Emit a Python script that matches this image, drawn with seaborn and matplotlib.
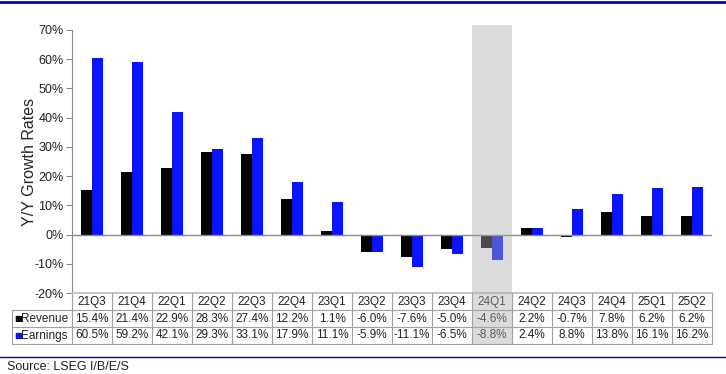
import pandas as pd
import numpy as np
import seaborn as sns
import matplotlib.pyplot as plt
from matplotlib.patches import Rectangle

# данные
quarters = ['21Q3', '21Q4', '22Q1', '22Q2', '22Q3', '22Q4', '23Q1', '23Q2',
            '23Q3', '23Q4', '24Q1', '24Q2', '24Q3', '24Q4', '25Q1', '25Q2']
revenue = [15.4, 21.4, 22.9, 28.3, 27.4, 12.2, 1.1, -6.0,
           -7.6, -5.0, -4.6, 2.2, -0.7, 7.8, 6.2, 6.2]
earnings = [60.5, 59.2, 42.1, 29.3, 33.1, 17.9, 11.1, -5.9,
            -11.1, -6.5, -8.8, 2.4, 8.8, 13.8, 16.1, 16.2]
series_names = ['Revenue', 'Earnings']
series_colors = ['#000000', '#0a14ff']
highlight = '24Q1'

df = pd.DataFrame({
    'quarter': quarters * 2,
    'series': ['Revenue'] * len(quarters) + ['Earnings'] * len(quarters),
    'value': revenue + earnings,
})

sns.set_style('white')
plt.rcParams['font.family'] = ['Liberation Sans', 'DejaVu Sans']

W, H = 726, 374
fig = plt.figure(figsize=(W / 100, H / 100), dpi=100)

# основная область графика (в пикселях)
x0, x1, y_top, y_bot = 72, 712, 30, 293
ax = fig.add_axes([x0 / W, (H - y_bot) / H, (x1 - x0) / W, (y_bot - y_top) / H])
sns.barplot(data=df, x='quarter', y='value', hue='series', hue_order=series_names,
            palette=series_colors, saturation=1, width=0.55, ax=ax, legend=False)
for p in ax.patches:
    p.set_edgecolor('none')
ax.set_ylim(-20, 70)
ax.set_xlim(-0.5, len(quarters) - 0.5)
ax.set_yticks(np.arange(-20, 71, 10))
ax.set_yticklabels([f'{v}%' for v in range(-20, 71, 10)], fontsize=9, color='#222222')
ax.set_xticks([])
ax.set_xlabel('')
ax.set_ylabel('Y/Y Growth Rates', fontsize=11.5, labelpad=-2)
ax.tick_params(axis='y', left=True, length=4, width=0.8, color='#888888', pad=2)
for s in ['top', 'right', 'bottom']:
    ax.spines[s].set_visible(False)
ax.spines['left'].set_color('#888888')
ax.axhline(0, color='#888888', lw=1)

# таблица и оформление поверх (координаты в пикселях)
ov = fig.add_axes([0, 0, 1, 1], facecolor='none')
ov.set_xlim(0, W)
ov.set_ylim(H, 0)
ov.axis('off')

col_w = (x1 - x0) / len(quarters)
rows = [293, 310, 327, 344]
lab_x0 = 12
grid_c = '#a0a0a0'

# горизонтальные линии
ov.plot([x0, x1], [rows[0], rows[0]], color='#c8c8c8', lw=1.5)
for r in rows[1:]:
    ov.plot([lab_x0, x1], [r, r], color=grid_c, lw=0.8)
# вертикальные линии
for i in range(len(quarters) + 1):
    ov.plot([x0 + i * col_w] * 2, [rows[0], rows[3]], color=grid_c, lw=0.8)
ov.plot([lab_x0, lab_x0], [rows[1], rows[3]], color=grid_c, lw=0.8)

for i, q in enumerate(quarters):
    cx = x0 + (i + 0.5) * col_w
    ov.text(cx, (rows[0] + rows[1]) / 2, q, ha='center', va='center', fontsize=8.5, color='#222222')
    ov.text(cx, (rows[1] + rows[2]) / 2, f'{revenue[i]:.1f}%', ha='center', va='center',
            fontsize=8.5, color='#222222')
    ov.text(cx, (rows[2] + rows[3]) / 2, f'{earnings[i]:.1f}%', ha='center', va='center',
            fontsize=8.5, color='#222222')

for k, (name, c) in enumerate(zip(series_names, series_colors)):
    yc = (rows[k + 1] + rows[k + 2]) / 2
    ov.text(lab_x0 + 2, yc, '■', ha='left', va='center', fontsize=6, color=c,
            family=['DejaVu Sans'])
    ov.text(lab_x0 + 9.5, yc, name, ha='left', va='center', fontsize=8.5, color='#222222')

# выделение 24Q1
hi = quarters.index(highlight)
ov.add_patch(Rectangle((x0 + hi * col_w, 25), col_w, rows[3] - 25,
                       facecolor='#acacac', alpha=0.43, edgecolor='none', zorder=10))

# синие линии и источник
ov.plot([0, W], [2, 2], color='#0000cc', lw=2)
ov.plot([0, W], [357, 357], color='#0000cc', lw=1)
ov.text(7, 367, 'Source: LSEG I/B/E/S', ha='left', va='center', fontsize=9, color='#222222')

fig.savefig('out.png', dpi=100)
